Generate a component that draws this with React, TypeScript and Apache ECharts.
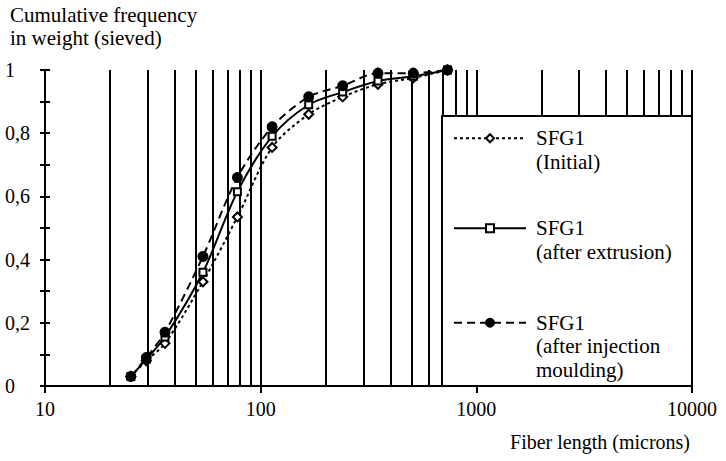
import React, { useEffect, useRef } from "react";
import * as echarts from "echarts";

// Fiber length (microns) of the sieve classes
const sizes = [25, 29.5, 36, 54, 78, 113, 167, 240, 350, 510, 735];
// Cumulative frequency in weight
const initialFreq = [0.03, 0.08, 0.135, 0.33, 0.535, 0.755, 0.86, 0.915, 0.955, 0.975, 1.0];
const extrusionFreq = [0.03, 0.085, 0.155, 0.36, 0.615, 0.79, 0.89, 0.93, 0.965, 0.98, 1.0];
const injectionFreq = [0.03, 0.09, 0.17, 0.41, 0.66, 0.82, 0.915, 0.95, 0.99, 0.99, 1.0];

const seriesNames = ["SFG1 (Initial)", "SFG1 (after extrusion)", "SFG1 (after injection moulding)"];
const legendLabels = ["SFG1\n(Initial)", "SFG1\n(after extrusion)", "SFG1\n(after injection\nmoulding)"];

// vertical log grid lines
const gridValues = [
  20, 30, 40, 50, 60, 70, 80, 90, 100,
  200, 300, 400, 500, 600, 700, 800, 900, 1000,
  2000, 3000, 4000, 5000, 6000, 7000, 8000, 9000, 10000,
];

const yTitle = "Cumulative frequency\nin weight (sieved)";
const xTitle = "Fiber length (microns)";

const FONT = "Liberation Serif";

export default function App() {
  const ref = useRef<HTMLDivElement>(null);

  useEffect(() => {
    if (!ref.current) return;
    document.body.style.margin = "0";
    const chart = echarts.init(ref.current, undefined, { renderer: "svg" });

    const lh = 23.5;
    const legendTops = [103, 193, 264];
    const legends = seriesNames.map((name, i) => {
      const lines = legendLabels[i].split("\n").length;
      // leading blank lines so that the first text line sits level with the icon
      const label = "\n".repeat(lines - 1) + legendLabels[i];
      return {
        data: [name],
        orient: "vertical",
        left: 453,
        top: legendTops[i],
        padding: 0,
        itemWidth: 72,
        itemHeight: 10,
        selectedMode: false,
        z: 10,
        formatter: () => label,
        textStyle: {
          fontFamily: FONT,
          fontSize: 21,
          color: "#000",
          lineHeight: lh,
          padding: [0, 0, 0, 5],
        },
      };
    });

    const lineSeries = (name: string, vals: number[], type: any, symbol: string, size: number, filled: boolean) => ({
      name,
      type: "line",
      smooth: 0.3,
      data: sizes.map((s, i) => [s, vals[i]]),
      symbol,
      symbolSize: size,
      showSymbol: true,
      z: 3,
      lineStyle: { color: "#000", width: 2, type },
      itemStyle: { color: filled ? "#000" : "#fff", borderColor: "#000", borderWidth: 2 },
    });

    const yAxisBase = {
      type: "value",
      min: 0,
      max: 1,
      interval: 0.1,
      position: "left",
      splitLine: { show: false },
    };

    chart.setOption({
      animation: false,
      backgroundColor: "#fff",
      grid: { left: 45, right: 34, top: 70, bottom: 75, containLabel: false },
      xAxis: {
        type: "log",
        logBase: 10,
        min: 10,
        max: 10000,
        axisLine: { lineStyle: { color: "#000", width: 2 } },
        axisTick: { show: true, length: 7, lineStyle: { color: "#000", width: 2 } },
        axisLabel: {
          color: "#000",
          fontFamily: FONT,
          fontSize: 20,
          margin: 13,
          formatter: (v: number) => String(Math.round(v)),
        },
        splitLine: { show: false },
      },
      yAxis: [
        {
          ...yAxisBase,
          axisLine: { show: true, lineStyle: { color: "#000", width: 2 } },
          axisTick: { show: true, length: 5, lineStyle: { color: "#000", width: 2 } },
          axisLabel: {
            color: "#000",
            fontFamily: FONT,
            fontSize: 20,
            align: "left",
            margin: 40,
            formatter: (v: number) => {
              const k = Math.round(v * 10);
              if (k % 2 !== 0) return "";
              if (k === 0) return "0";
              if (k === 10) return "1";
              return (k / 10).toFixed(1).replace(".", ",");
            },
          },
        },
        {
          ...yAxisBase,
          axisLine: { show: false },
          axisTick: { show: true, inside: true, length: 5, lineStyle: { color: "#000", width: 2 } },
          axisLabel: { show: false },
        },
      ],
      legend: legends,
      series: [
        {
          name: "grid",
          type: "line",
          data: [],
          z: 1,
          silent: true,
          markLine: {
            silent: true,
            z: 1,
            symbol: "none",
            label: { show: false },
            lineStyle: { color: "#000", width: 2, type: "solid" },
            data: gridValues.map((v) => ({ xAxis: v })),
          },
        },
        lineSeries(seriesNames[0], initialFreq, [3, 3], "diamond", 9, false),
        lineSeries(seriesNames[1], extrusionFreq, "solid", "rect", 7, false),
        lineSeries(seriesNames[2], injectionFreq, [8, 5], "circle", 9, true),
      ],
      graphic: {
        elements: [
          {
            type: "rect",
            z: 8,
            shape: { x: 442, y: 116, width: 250, height: 270 },
            style: { fill: "#fff", stroke: "#000", lineWidth: 2 },
          },
          {
            type: "text",
            z: 8,
            left: 10,
            top: 3,
            style: {
              text: yTitle,
              font: `21px '${FONT}'`,
              fill: "#000",
              lineHeight: 23,
            },
          },
          {
            type: "text",
            z: 8,
            right: 36,
            top: 432,
            style: {
              text: xTitle,
              font: `20px '${FONT}'`,
              fill: "#000",
            },
          },
        ],
      },
    });

    return () => chart.dispose();
  }, []);

  return <div ref={ref} style={{ width: 726, height: 461 }} />;
}
